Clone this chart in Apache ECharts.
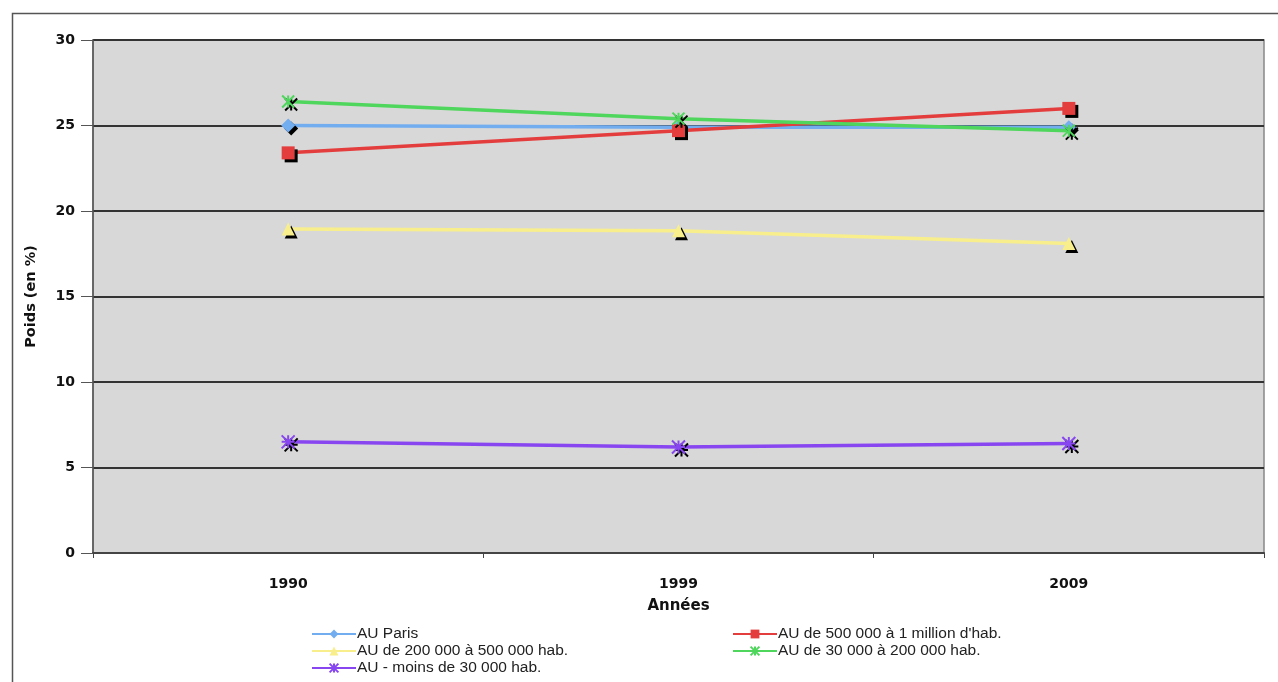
<!DOCTYPE html>
<html><head><meta charset="utf-8">
<script src="https://cdn.jsdelivr.net/npm/echarts@6/dist/echarts.min.js"></script>
<style>html,body{margin:0;padding:0;background:#fff}#c{width:1278px;height:682px}</style>
</head><body><div id="c"></div>
<script>
const years = ['1990', '1999', '2009'];
const seriesNames = ['AU Paris', "AU de 500 000 à 1 million d'hab.", 'AU de 200 000 à 500 000 hab.', 'AU de 30 000 à 200 000 hab.', 'AU - moins de 30 000 hab.'];
const paris = [25.0, 24.9, 24.9];
const au500k1m = [23.4, 24.7, 26.0];
const au200k500k = [18.95, 18.85, 18.1];
const au30k200k = [26.4, 25.4, 24.7];
const auMoins30k = [6.5, 6.2, 6.4];
const yTicks = [0, 5, 10, 15, 20, 25, 30];

const colors = ['#72adf0', '#e43d3d', '#f8ef8c', '#4fd65c', '#8846f0'];
const symbols = ['diamond', 'rect', 'triangle', 'path://M0,0 L10,10 M10,0 L0,10 M5,0 L5,10', 'path://M0,0 L10,10 M10,0 L0,10 M5,0 L5,10 M0,5 L10,5'];
const sizes = [14, 13, 13, 12, 13];
const datas = [paris, au500k1m, au200k500k, au30k200k, auMoins30k];

const chart = echarts.init(document.getElementById('c'));
const series = datas.map((d, i) => ({
  name: seriesNames[i],
  type: 'line',
  data: d,
  symbol: symbols[i],
  symbolSize: sizes[i],
  z: 3 + i,
  lineStyle: { color: colors[i], width: 3.5 },
  itemStyle: {
    color: colors[i],
    borderColor: colors[i],
    borderWidth: (i >= 3) ? 2 : 0,
    shadowColor: '#000', shadowOffsetX: 3, shadowOffsetY: 3, shadowBlur: 0
  },
  emphasis: { disabled: true },
  animation: false
}));

const legText = { fontFamily: 'Liberation Sans, Arial, sans-serif', fontSize: 15.5, color: '#222', lineHeight: 15.5, padding: [0, 0, 0, -4] };

chart.setOption({
  animation: false,
  backgroundColor: '#fff',
  graphic: [{
    type: 'rect', shape: { x: 12.5, y: 13.5, width: 1300, height: 700 },
    style: { fill: 'none', stroke: '#555', lineWidth: 1.5 }, silent: true, z: -10
  }],
  grid: { left: 93, top: 40, right: 14, bottom: 129, show: true, backgroundColor: '#d8d8d8', borderColor: '#888', borderWidth: 1.5 },
  legend: [{
    data: [seriesNames[0], seriesNames[2], seriesNames[4]],
    orient: 'vertical', left: 306, top: 621, itemGap: 1, itemWidth: 44, itemHeight: 11,
    textStyle: legText
  }, {
    data: [seriesNames[1], seriesNames[3]],
    orient: 'vertical', left: 727, top: 621, itemGap: 1, itemWidth: 44, itemHeight: 11,
    textStyle: legText
  }],
  xAxis: {
    type: 'category', data: years, boundaryGap: true,
    name: 'Années', nameLocation: 'middle', nameGap: 46,
    nameTextStyle: { fontFamily: 'DejaVu Sans', fontWeight: 'bold', fontSize: 15, color: '#111' },
    axisLine: { lineStyle: { color: '#444', width: 2 } },
    axisTick: { show: true, length: 5, lineStyle: { color: '#444' } },
    axisLabel: { fontFamily: 'DejaVu Sans', fontWeight: 'bold', fontSize: 14, color: '#111', margin: 24 },
    splitLine: { show: false }
  },
  yAxis: {
    type: 'value', min: yTicks[0], max: yTicks[yTicks.length - 1], interval: 5,
    name: 'Poids (en %)', nameLocation: 'middle', nameGap: 54, nameRotate: 90,
    nameTextStyle: { fontFamily: 'DejaVu Sans', fontWeight: 'bold', fontSize: 14.5, color: '#111' },
    axisLine: { show: true, lineStyle: { color: '#555', width: 1.5 } },
    axisTick: { show: true, inside: false, length: 12, lineStyle: { color: '#555' } },
    axisLabel: { fontFamily: 'DejaVu Sans', fontWeight: 'bold', fontSize: 14, color: '#111', margin: 18 },
    splitLine: { show: true, lineStyle: { color: '#333', width: 2 } }
  },
  series: series
});
</script></body></html>
